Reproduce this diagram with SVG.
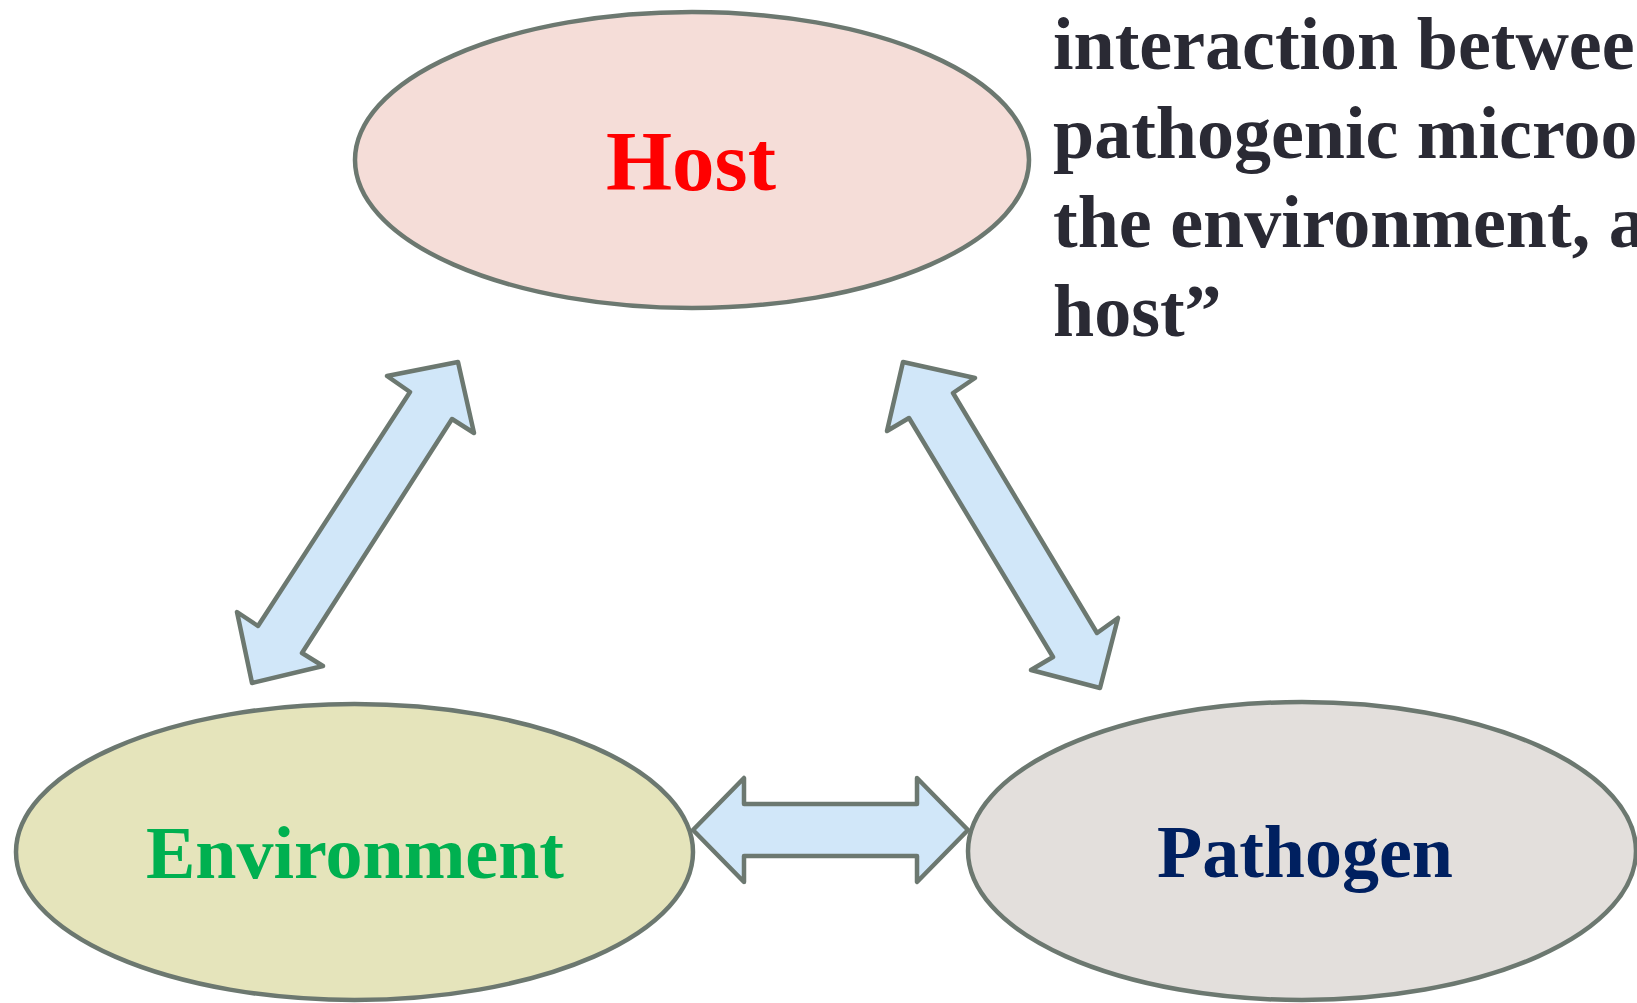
<svg xmlns="http://www.w3.org/2000/svg" width="1637" height="1003" viewBox="0 0 1637 1003">
<style>
.node{stroke:#6c7870;stroke-width:4.5}
.lbl{font-family:"Liberation Serif","Times New Roman",serif;font-weight:bold;text-anchor:middle}
.arr{fill:#d1e7f9;stroke:#6c7870;stroke-width:4.5;stroke-linejoin:round}
.quote{font-family:"Liberation Serif","Times New Roman",serif;font-weight:bold;font-size:74px;fill:#2a2a34}
</style>
<rect width="1637" height="1003" fill="#ffffff"/>
<g id="connectors">
<polygon class="arr" points="458,362 387,376 410,392 258,626 237,612 252,683 323,666 302,653 452,419 474,433"/>
<polygon class="arr" points="903,362 975,378 953,393 1097,633 1118,618 1100,688 1031,670 1053,657 909,418 887,431"/>
<polygon class="arr" points="693,830 744,778 744,804 917,804 917,778 968,830 917,882 917,856 744,856 744,882"/>
</g>
<g id="host">
<ellipse class="node" cx="692" cy="160" rx="337" ry="148" fill="#f5ddd8"/>
<text class="lbl" x="691" y="190" font-size="85" fill="#ff0000">Host</text>
</g>
<g id="environment">
<ellipse class="node" cx="354.5" cy="852" rx="338.5" ry="148" fill="#e5e4bb"/>
<text class="lbl" x="355" y="878" font-size="74" fill="#00b050">Environment</text>
</g>
<g id="pathogen">
<ellipse class="node" cx="1302" cy="851" rx="334" ry="149" fill="#e3dfdc"/>
<text class="lbl" x="1305" y="877" font-size="74" fill="#002060">Pathogen</text>
</g>
<g id="quote">
<text class="quote" x="1053" y="69">interaction betwee</text>
<text class="quote" x="1053" y="158">pathogenic microo</text>
<text class="quote" x="1053" y="247">the environment, a</text>
<text class="quote" x="1053" y="336">host”</text>
</g>
</svg>
